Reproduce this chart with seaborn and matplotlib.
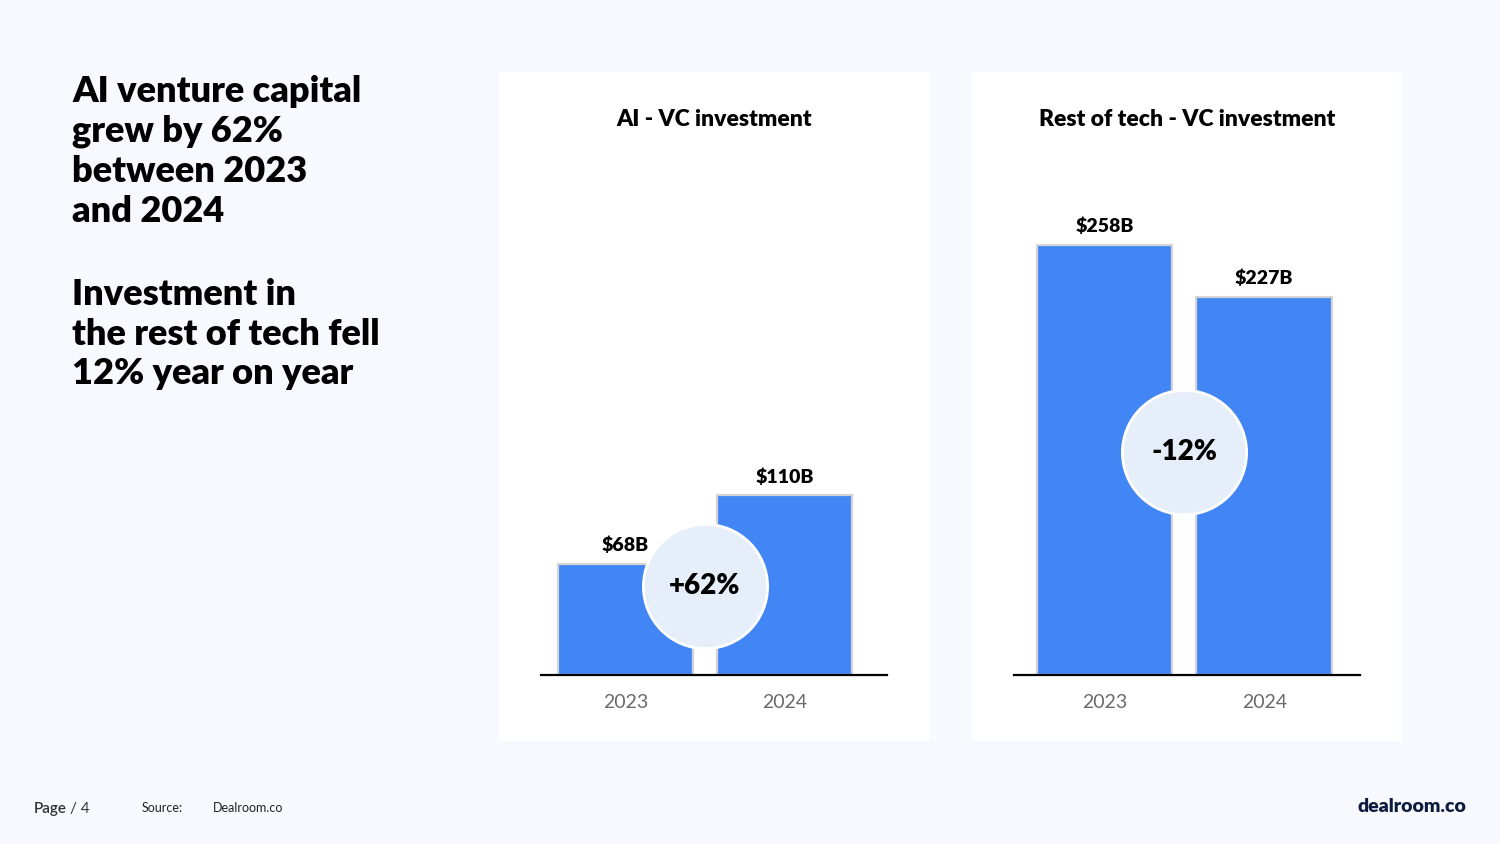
import matplotlib
matplotlib.use("Agg")
import matplotlib.pyplot as plt
import seaborn as sns
import pandas as pd

# data
years = ["2023", "2024"]
ai_values = [68, 110]
tech_values = [258, 227]
ai_labels = ["$68B", "$110B"]
tech_labels = ["$258B", "$227B"]
ai_change = "+62%"
tech_change = "-12%"

BG = "#F7F9FE"
BAR = "#4285F4"
BUBBLE = "#E6EEFA"
HEAVY = "heavy"

sns.set_theme(style="white")
plt.rcParams["font.family"] = ["Lato", "DejaVu Sans"]

fig = plt.figure(figsize=(15, 8.44), dpi=100)
fig.patch.set_facecolor(BG)


def add_panel(left: float) -> None:
    panel = fig.add_axes([left, 0.122, 0.2867, 0.7927], zorder=0)
    panel.set_facecolor("white")
    panel.set_xticks([])
    panel.set_yticks([])
    for spine in panel.spines.values():
        spine.set_visible(False)


def draw_chart(left, values, labels, change, bubble_y, ytop, title, title_x, xlim):
    ax = fig.add_axes([left, 0.2002, 0.2307, 0.5924], zorder=1)
    ax.patch.set_alpha(0)
    df = pd.DataFrame({"year": years, "value": values})
    sns.barplot(
        data=df,
        x="year",
        y="value",
        color=BAR,
        saturation=1,
        width=0.85,
        edgecolor="#D4D4D4",
        linewidth=1.6,
        ax=ax,
    )
    ax.set_ylim(0, ytop)
    ax.set_xlim(*xlim)
    ax.set_xlabel("")
    ax.set_ylabel("")
    ax.set_yticks([])
    for side in ["top", "left", "right"]:
        ax.spines[side].set_visible(False)
    ax.spines["bottom"].set_color("black")
    ax.spines["bottom"].set_linewidth(1.6)
    ax.spines["bottom"].set_zorder(5)
    ax.tick_params(axis="x", length=0, pad=14, labelsize=14, labelcolor="#6B6B6B")
    for i, (v, lab) in enumerate(zip(values, labels)):
        ax.annotate(
            lab,
            (i, v),
            xytext=(0, 7),
            textcoords="offset points",
            ha="center",
            va="bottom",
            fontsize=14,
            fontweight=HEAVY,
            color="black",
        )
    ax.scatter([0.5], [bubble_y], s=8000, color=BUBBLE, edgecolor="white", linewidth=2, zorder=4)
    ax.text(0.5, bubble_y, change, ha="center", va="center", fontsize=20, fontweight=HEAVY, color="black", zorder=6)
    fig.text(title_x, 1 - 119 / 844, title, ha="center", va="center", fontsize=16.5, fontweight=HEAVY, color="black")
    return ax


add_panel(499 / 1500)
add_panel(972 / 1500)

draw_chart(541 / 1500, ai_values, ai_labels, ai_change, 54.5, 306, "AI - VC investment", 714 / 1500, (-0.53, 1.645))
draw_chart(1014 / 1500, tech_values, tech_labels, tech_change, 134, 300, "Rest of tech - VC investment", 1187 / 1500, (-0.567, 1.6))

headline = "AI venture capital\ngrew by 62%\nbetween 2023\nand 2024"
subline = "Investment in\nthe rest of tech fell\n12% year on year"
fig.text(72 / 1500, 1 - 75 / 844, headline, ha="left", va="top", fontsize=26, fontweight=HEAVY, color="black", linespacing=1.25)
fig.text(72 / 1500, 1 - 278 / 844, subline, ha="left", va="top", fontsize=26, fontweight=HEAVY, color="black", linespacing=1.25)

# footer
fig.text(34 / 1500, 1 - 809 / 844, "Page", ha="left", va="center", fontsize=11, color="#333333", fontweight="semibold")
fig.text(70 / 1500, 1 - 809 / 844, "/ 4", ha="left", va="center", fontsize=11, color="#333333")
fig.text(142 / 1500, 1 - 808 / 844, "Source:", ha="left", va="center", fontsize=9, color="#222222")
fig.text(213 / 1500, 1 - 808 / 844, "Dealroom.co", ha="left", va="center", fontsize=9, color="#222222")
fig.text(1466 / 1500, 1 - 806 / 844, "dealroom.co", ha="right", va="center", fontsize=14, fontweight=HEAVY, color="#0D1B3E")

fig.savefig("out.png", dpi=100, facecolor=BG)
